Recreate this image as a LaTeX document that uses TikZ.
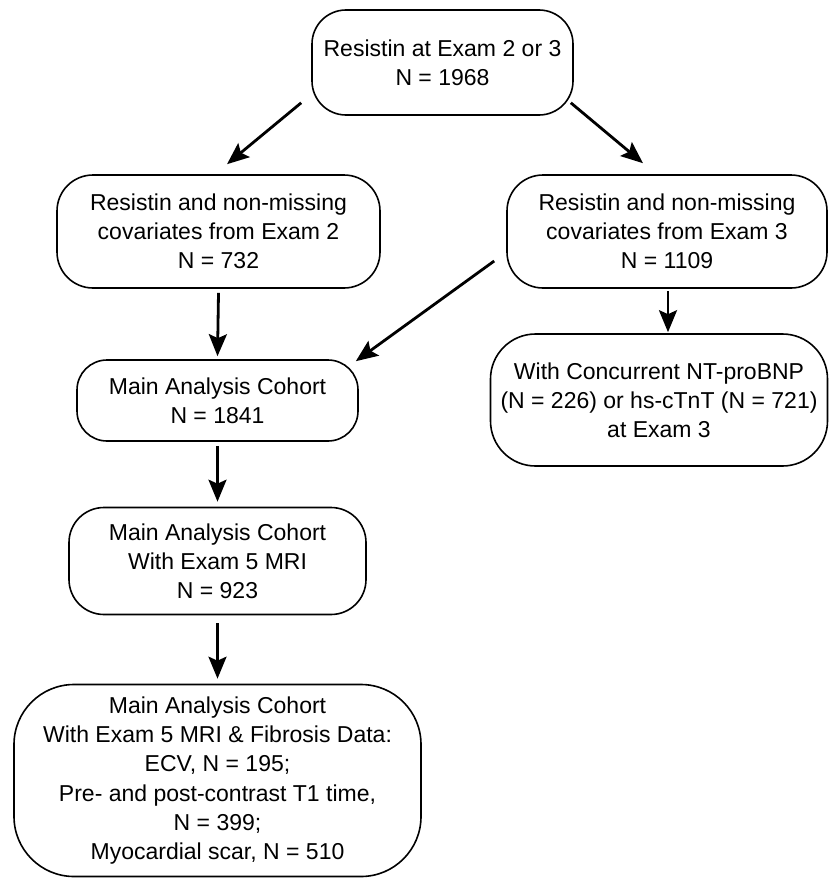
\documentclass[tikz,border=0pt]{standalone}
\usepackage{fontspec}
\setmainfont{Liberation Sans}
\usetikzlibrary{arrows.meta,calc}
\begin{document}
\begin{tikzpicture}[x=1pt,y=-1pt,
  box/.style={draw=black, line width=1.6pt, inner sep=0pt, align=center,
    font=\fontsize{23}{29.2}\selectfont},
  arr/.style={line width=2.8pt, -{Stealth[length=22pt,width=18pt,inset=4pt]}}]
\fill[white] (0,0) rectangle (831,878);
\useasboundingbox (0,0) rectangle (831,878);
\node[box, minimum width=261pt, minimum height=105pt, rounded corners=34pt] (b1) at (442.5,62.5)
  {Resistin at Exam 2 or 3\\N = 1968};
\node[box, minimum width=323pt, minimum height=113pt, rounded corners=36pt] (b2) at (218.5,231.5)
  {Resistin and non-missing\\covariates from Exam 2\\N = 732};
\node[box, minimum width=320pt, minimum height=113pt, rounded corners=36pt] (b3) at (667,231.5)
  {Resistin and non-missing\\covariates from Exam 3\\N = 1109};
\node[box, minimum width=281pt, minimum height=81pt, rounded corners=30pt] (b4) at (217.5,400.5)
  {Main Analysis Cohort\\N = 1841};
\node[box, minimum width=337pt, minimum height=132pt, rounded corners=45pt] (b5) at (659,400)
  {With Concurrent NT-proBNP\\(N = 226) or hs-cTnT (N = 721)\\at Exam 3};
\node[box, minimum width=297pt, minimum height=107pt, rounded corners=35pt] (b6) at (217.5,561)
  {Main Analysis Cohort\\With Exam 5 MRI\\N = 923};
\node[box, minimum width=407pt, minimum height=192pt, rounded corners=60pt] (b7) at (217.5,780.5)
  {Main Analysis Cohort\\With Exam 5 MRI \& Fibrosis Data:\\ECV, N = 195;\\Pre- and post-contrast T1 time,\\N = 399;\\Myocardial scar, N = 510};
\draw[arr] ($(b1.south west)+(-10,-13)$) -- ($(b2.north)+(8.5,-10)$);
\draw[arr] ($(b1.south east)+(-3,-13)$) -- ($(b3.north)+(-24,-11)$);
\draw[arr] ($(b2.south)+(0,4)$) -- ($(b4.north)+(0,-3)$);
\draw[arr] ($(b3.west)+(-12,29.5)$) -- ($(b4.north east)+(-3,2)$);
\draw[arr] ($(b3.south)+(1,2)$) -- ($(b3.south |- b5.north)+(1,-1)$);
\draw[arr] ($(b4.south)+(0,4)$) -- ($(b6.north)+(0,-5)$);
\draw[arr] ($(b6.south)+(0,8)$) -- ($(b7.north)+(0,-5)$);
\end{tikzpicture}
\end{document}
